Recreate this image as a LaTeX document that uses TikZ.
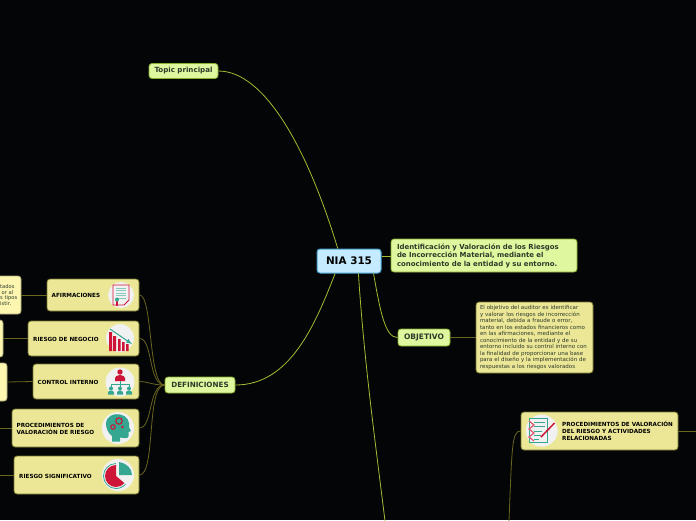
\documentclass[tikz,border=0pt]{standalone}
\usepackage{fontspec}
\setmainfont{DejaVu Sans}
\definecolor{bg}{HTML}{030507}
\definecolor{rootfill}{HTML}{C4EBFF}
\definecolor{rootline}{HTML}{4A9FD0}
\definecolor{greenfill}{HTML}{DFF79E}
\definecolor{greenline}{HTML}{87AE2E}
\definecolor{yelfill}{HTML}{ECE797}
\definecolor{yelline}{HTML}{77742E}
\definecolor{palefill}{HTML}{FCF6B0}
\definecolor{greenconn}{HTML}{A0BE32}
\definecolor{oliveconn}{HTML}{6A651F}
\definecolor{dtext}{HTML}{2C3A2A}
\definecolor{icored}{HTML}{CE1537}
\definecolor{icoteal}{HTML}{35A68F}
\definecolor{icobg}{HTML}{F0F1F0}
\tikzset{
  box/.style={draw,rounded corners=3pt,line width=.8pt,inner sep=0pt},
  rootbox/.style={box,fill=rootfill,draw=rootline,line width=1pt,font=\bfseries\fontsize{10.4}{12}\selectfont,text=black},
  greenbox/.style={box,fill=greenfill,draw=greenline,text=dtext},
  yelbox/.style={box,fill=yelfill,draw=yelline},
  palebox/.style={box,fill=palefill,draw=palefill!70!black},
  lab/.style={inner sep=0pt,anchor=west,align=left,font=\bfseries\fontsize{5.65}{7.4}\selectfont,text=black},
  conng/.style={draw=greenconn,line width=.8pt},
  conno/.style={draw=oliveconn,line width=.8pt},
  icon/.style={circle,fill=icobg,inner sep=0pt,minimum size=#1}
}
\begin{document}
\begin{tikzpicture}[x=1pt,y=-1pt]
\useasboundingbox (0,0) rectangle (696,520);
\clip (0,0) rectangle (696,520);
\fill[bg] (0,0) rectangle (696,520);
% main nodes
\node[rootbox,minimum width=64pt,minimum height=24pt] (nia) at (349,261) {NIA 315};
\node[greenbox,minimum width=186pt,minimum height=33pt,text width=174pt,align=left,font=\bfseries\fontsize{6.95}{8.5}\selectfont] (desc) at (484,255.5) {Identificación y Valoración de los Riesgos\\de Incorrección Material, mediante el\\conocimiento de la entidad y su entorno.};
\node[greenbox,minimum width=52pt,minimum height=17pt,font=\bfseries\fontsize{7.5}{9}\selectfont] (obj) at (424,337.5) {OBJETIVO};
\node[box,fill=yelfill,draw=yelline,minimum width=117pt,minimum height=71pt,text width=109pt,align=left,font=\fontsize{5.5}{6.5}\selectfont,text=dtext] (objt) at (534.5,337.5) {El objetivo del auditor es identificar\\y valorar los riesgos de incorrección\\material, debida a fraude o error,\\tanto en los estados financieros como\\en las afirmaciones, mediante el\\conocimiento de la entidad y de su\\entorno incluido su control interno con\\la finalidad de proporcionar una base\\para el diseño y la implementación de\\respuestas a los riesgos valorados};
\node[greenbox,minimum width=69pt,minimum height=15pt,font=\bfseries\fontsize{7.1}{9}\selectfont] (topic) at (183.5,71) {Topic principal};
\node[greenbox,minimum width=70pt,minimum height=16pt,font=\bfseries\fontsize{7.2}{9}\selectfont] (defs) at (200,385) {DEFINICIONES};
% definition boxes
\node[yelbox,minimum width=92pt,minimum height=32pt] (afi) at (93,295) {};
\node[yelbox,minimum width=111pt,minimum height=35pt] (neg) at (83.5,338.5) {};
\node[yelbox,minimum width=106pt,minimum height=35pt] (ctl) at (86,381.5) {};
\node[yelbox,minimum width=127pt,minimum height=38pt] (pro) at (75.5,428) {};
\node[yelbox,minimum width=125pt,minimum height=38pt] (sig) at (76.5,475) {};
\node[yelbox,minimum width=157pt,minimum height=38pt] (val) at (599.5,431) {};
% labels
\node[lab] (lafi) at (51.5,295) {AFIRMACIONES};
\node[lab] (lneg) at (33,339) {RIESGO DE NEGOCIO};
\node[lab] (lctl) at (37.5,382) {CONTROL INTERNO};
\node[lab] (lpro) at (16.5,429) {PROCEDIMIENTOS DE\\VALORACIÓN DE RIESGO};
\node[lab] (lsig) at (19,476) {RIESGO SIGNIFICATIVO};
\node[lab] (lval) at (562,431) {PROCEDIMIENTOS DE VALORACIÓN\\DEL RIESGO Y ACTIVIDADES\\RELACIONADAS};
% clipped pale boxes
\node[palebox,minimum width=50pt,minimum height=38pt] (p1) at (-4,295) {};
\node[palebox,minimum width=50pt,minimum height=37pt] (p2) at (-22,338.5) {};
\node[palebox,minimum width=50pt,minimum height=38pt] (p3) at (-18,382) {};
\node[inner sep=0pt,anchor=west,align=left,font=\fontsize{5.2}{5.6}\selectfont,text=dtext] (p1t) at (0,295) {tados\\\hspace*{1.5pt}or al\\s tipos\\istir.};
\coordinate (edgepro) at (-1,428);
\coordinate (edgesig) at (-1,475);
\coordinate (edgeval) at (697,431);
\coordinate (edgeb) at (385,521);
\coordinate (edgevalb) at (509,521);
% connectors
\draw[conng] (nia.132.5) .. controls (308,150) and (265,71) .. (topic.east);
\draw[conng] (nia.222.7) .. controls (315,325) and (290,385) .. (defs.east);
\draw[conng] (nia.-27.5) .. controls (380,310) and (385,338) .. (obj.west);
\draw[conng] (nia.-53) .. controls (364,360) and (375,440) .. (edgeb);
\draw[conng] (nia.8) -- (nia.8 -| desc.west);
\draw[conno] (obj.east) -- (objt.west);
\draw[conno] (afi.west) -- (p1.east);
\draw[conno] (neg.west) -- (p2.east);
\draw[conno] (ctl.west) -- (p3.east);
\draw[conno] (pro.west) -- (edgepro);
\draw[conno] (sig.west) -- (edgesig);
\draw[conno] (val.east) -- (edgeval);
\draw[conno] (val.west) .. controls (512,431) and (512,445) .. (edgevalb);
\draw[conno] (afi.east) .. controls (153,295) and (148,385) .. (defs.west);
\draw[conno] (neg.east) .. controls (153,338) and (148,385) .. (defs.west);
\draw[conno] (ctl.east) .. controls (150,382) and (152,385) .. (defs.west);
\draw[conno] (pro.east) .. controls (153,428) and (148,385) .. (defs.west);
\draw[conno] (sig.east) .. controls (156,475) and (146,385) .. (defs.west);
% icon: afirmaciones
\node[icon=26pt] (ia) at (121,295) {};
\draw[icored,line width=.8pt,fill=icobg] (113,285) -- (129,285) -- (129,300) -- (124,305) -- (113,305) -- cycle;
\draw[icoteal!60,line width=.7pt] (116,288) -- (126,288) (116,290.5) -- (126,290.5) (116,293) -- (126,293) (116,295.5) -- (126,295.5) (116,298) -- (126,298);
\fill[icored] (116,301) rectangle (118,306);
\fill[icoteal] (117,299.5) circle (2pt);
% icon: negocio
\node[icon=28pt] (ib) at (120,338) {};
\fill[icored] (109,332) rectangle (112,351) (113,336) rectangle (116,351) (118,339) rectangle (120.5,351) (122,342) rectangle (124.5,351) (126,344) rectangle (128.5,351);
\draw[icoteal,line width=1pt,-latex] (110,329) -- (132,344);
% icon: control
\node[icon=29pt] (ic) at (120,382) {};
\fill[icored] (120,372) circle (2.7pt);
\fill[icored] (115,381) -- (115,378) arc (-180:0:5 and 3) -- (125,381) -- cycle;
\draw[icoteal,line width=.7pt] (120,381) -- (120,384) (111,388) -- (111,384) -- (129,384) -- (129,388) (120,384) -- (120,388);
\foreach \xx in {111,120,129}{\fill[icoteal] (\xx,388.5) circle (2pt); \fill[icoteal] (\xx-3,394.5) -- (\xx-3,392.5) arc (-180:0:3 and 2) -- (\xx+3,394.5) -- cycle;}
% icon: procedimientos
\node[icon=32pt] (id) at (118,428) {};
\fill[icoteal] (106,424) .. controls (106,416) and (114,413) .. (120,414.5) .. controls (127,416) and (130,421) .. (129,427) -- (131,431) -- (128.5,432) -- (128.5,436) .. controls (128.5,439) and (124,438) .. (120,437.5) -- (120,441.5) -- (112,441.5) -- (112,436) .. controls (108,433) and (106,428) .. (106,424) -- cycle;
\draw[icored,line width=1.1pt] (119,421) circle (3.2pt) (113,427) circle (2.2pt);
\fill[icored] (122.5,427) circle (1.3pt);
% icon: significativo
\node[icon=32pt] (ie) at (118,475) {};
\fill[icored] (116,476) -- (116,465) arc (-90:-320:11) -- cycle;
\draw[icoteal,line width=.8pt] (116,463.5) arc (-90:-320:12.5);
\fill[icoteal] (119,462) -- (119,475) -- (132,475) .. controls (132,468) and (126,463) .. (119,462) -- cycle;
% icon: valoracion
\node[icon=32pt] (if) at (541.7,430.7) {};
\draw[icoteal,line width=.8pt,fill=icobg] (529,418.5) rectangle (547,442);
\draw[icoteal,line width=.8pt] (534,422) -- (545,422) (534,426) -- (545,426) (534,431) -- (542,431) (534,435) -- (541,435) (534,439) -- (539,439);
\draw[icored!70,line width=1.2pt] (529,421) -- (534,425) -- (529,429) -- (534,433) -- (529,437) -- (534,441);
\draw[icored,line width=1.5pt] (554.5,423) -- (541,437);
\end{tikzpicture}
\end{document}
